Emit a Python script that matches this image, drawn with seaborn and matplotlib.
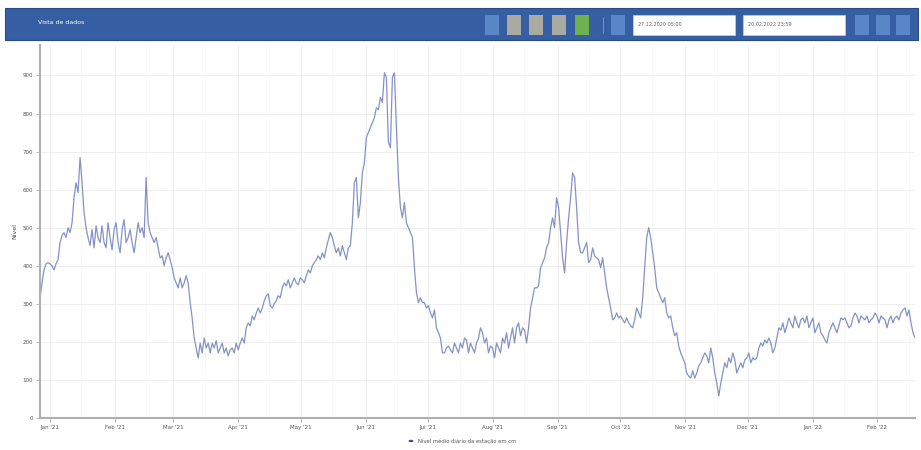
import matplotlib
matplotlib.use("Agg")
import matplotlib.pyplot as plt
import matplotlib.dates as mdates
from matplotlib.patches import Rectangle, Circle
import seaborn as sns
import pandas as pd
import numpy as np

# ---- data (water level readings, cm) ----
start_date = "2020-12-27 05:00"
reading_step = "23h"
levels = [
    316, 355, 389, 405, 408, 405, 400, 389, 405, 416, 461, 479, 487, 474, 500, 487,
    513, 579, 618, 592, 684, 618, 539, 500, 474, 453, 495, 447, 505, 474, 461, 505,
    461, 447, 513, 474, 442, 495, 513, 461, 434, 495, 521, 461, 474, 495, 461, 434,
    474, 513, 487, 500, 474, 632, 513, 487, 474, 461, 474, 447, 421, 426, 400, 421,
    434, 416, 395, 368, 355, 342, 368, 342, 355, 374, 355, 303, 263, 210, 184, 158,
    197, 171, 210, 184, 197, 171, 197, 184, 203, 171, 184, 197, 171, 184, 163, 179,
    184, 171, 197, 179, 197, 210, 197, 237, 250, 242, 268, 258, 276, 289, 276, 289,
    308, 321, 326, 295, 289, 300, 308, 321, 316, 342, 355, 347, 363, 342, 355, 368,
    355, 350, 368, 363, 355, 374, 389, 381, 400, 408, 416, 426, 416, 434, 421, 447,
    468, 487, 474, 453, 434, 447, 426, 453, 434, 416, 447, 453, 513, 618, 632, 526,
    566, 644, 671, 737, 750, 763, 776, 789, 815, 810, 842, 829, 907, 895, 724, 710,
    895, 907, 763, 632, 553, 526, 566, 513, 500, 487, 474, 395, 329, 303, 316, 303,
    303, 289, 295, 276, 263, 284, 237, 224, 210, 171, 171, 184, 189, 179, 171, 197,
    184, 171, 197, 184, 210, 205, 171, 197, 184, 171, 197, 210, 237, 224, 197, 210,
    171, 189, 184, 158, 197, 184, 171, 210, 197, 224, 184, 210, 237, 197, 237, 250,
    216, 237, 231, 197, 237, 289, 316, 342, 342, 347, 395, 408, 421, 447, 461, 500,
    526, 500, 579, 553, 487, 421, 381, 461, 526, 579, 644, 632, 553, 461, 434, 434,
    447, 461, 408, 416, 447, 426, 421, 416, 395, 421, 381, 342, 316, 289, 258, 263,
    276, 263, 268, 258, 250, 263, 250, 242, 237, 258, 289, 276, 263, 316, 395, 474,
    500, 474, 434, 395, 342, 329, 316, 303, 316, 276, 263, 268, 237, 216, 224, 189,
    171, 158, 145, 118, 110, 105, 124, 105, 118, 137, 145, 158, 171, 163, 145, 184,
    158, 118, 92, 58, 92, 118, 145, 132, 158, 145, 171, 153, 118, 132, 145, 132,
    153, 158, 171, 145, 158, 153, 158, 184, 197, 189, 205, 197, 210, 197, 171, 184,
    210, 237, 231, 250, 224, 242, 263, 250, 237, 268, 250, 237, 258, 263, 250, 268,
    237, 250, 263, 224, 237, 250, 224, 216, 205, 197, 224, 237, 250, 237, 224, 242,
    263, 258, 263, 250, 237, 242, 263, 276, 268, 250, 268, 263, 258, 268, 250, 258,
    263, 276, 268, 250, 268, 263, 258, 237, 258, 268, 250, 263, 268, 258, 276, 284,
    289, 268, 284, 250, 224, 210,
]
dates = pd.date_range(start_date, periods=len(levels), freq=reading_step)
y_ticks = [0, 100, 200, 300, 400, 500, 600, 700, 800, 900]

title_text = "Vista de dados"
y_label = "Nível"
legend_label = "Nível médio diário da estação em cm"
date_from = "27.12.2020 05:00"
date_to = "20.02.2022 23:59"

df = pd.DataFrame({"date": dates, "level": levels})

sns.set_theme(style="white")
plt.rcParams["font.family"] = ["DejaVu Sans"]

W, H = 921, 450
fig = plt.figure(figsize=(W / 100, H / 100), dpi=100)
fig.patch.set_facecolor("white")

def fx(px):
    return px / W

def fy(py):
    return 1 - py / H

# ---- header bar ----
fig.patches.append(Rectangle((fx(5), fy(40)), fx(913), (32) / H, transform=fig.transFigure,
                             facecolor="#365ea2", edgecolor="#2a4a85", lw=0.8, zorder=0))
fig.text(fx(38), fy(23), title_text, color="white", fontsize=4.5, va="center", ha="left")

btn_specs = [(485, "#5a86c8"), (507, "#a9aaa2"), (529, "#a9aaa2"), (552, "#a9aaa2"),
             (575, "#6db24e"), (611, "#5a86c8"), (855, "#5a86c8"), (876, "#5a86c8"),
             (896, "#5a86c8")]
for bx, col in btn_specs:
    fig.patches.append(Rectangle((fx(bx), fy(35)), fx(14), 20 / H, transform=fig.transFigure,
                                 facecolor=col, edgecolor="none", zorder=1))
fig.lines.append(plt.Line2D([fx(603), fx(603)], [fy(33), fy(17)], transform=fig.transFigure,
                            color="#7f9ccc", lw=0.6))
for bx, txt in [(633, date_from), (743, date_to)]:
    fig.patches.append(Rectangle((fx(bx), fy(35)), fx(102), 20 / H, transform=fig.transFigure,
                                 facecolor="white", edgecolor="#c8d0e0", lw=0.5, zorder=1))
    fig.text(fx(bx + 5), fy(25), txt, color="#666666", fontsize=3.5, va="center", ha="left")

# ---- main axes ----
ax = fig.add_axes([fx(40), fy(418), fx(875), (418 - 45) / H])
sns.lineplot(data=df, x="date", y="level", ax=ax, color="#8592c6", lw=0.9, legend=False)

ax.set_xlim(dates[0], dates[-1])
ax.set_ylim(0, 980)
ax.set_yticks(y_ticks)
ax.set_yticklabels([str(v) for v in y_ticks], fontsize=4, color="#555555")
ax.xaxis.set_major_locator(mdates.MonthLocator())
ax.xaxis.set_major_formatter(mdates.DateFormatter("%b '%y"))
ax.xaxis.set_minor_locator(mdates.DayLocator(bymonthday=[16]))
plt.setp(ax.get_xticklabels(), fontsize=4, color="#555555")
ax.set_xlabel("")
ax.set_ylabel(y_label, fontsize=4.5, color="#444444", labelpad=4)
ax.grid(True, which="major", color="#efefef", lw=0.7)
ax.grid(True, which="minor", axis="x", color="#f5f5f5", lw=0.5)
for side in ["top", "right"]:
    ax.spines[side].set_visible(False)
for side in ["left", "bottom"]:
    ax.spines[side].set_color("#b0b0b0")
    ax.spines[side].set_linewidth(1.5)
ax.tick_params(axis="both", which="major", length=3, width=0.6, color="#b0b0b0", pad=2,
               left=True, bottom=True)
ax.set_facecolor("white")

# ---- legend ----
fig.patches.append(Circle((fx(411), fy(441)), 2.5 / W, transform=fig.transFigure,
                          facecolor="#474d8e", edgecolor="none"))
fig.text(fx(418), fy(441), legend_label, fontsize=3.8, color="#555555", va="center", ha="left")

fig.savefig("out.png", dpi=100)
